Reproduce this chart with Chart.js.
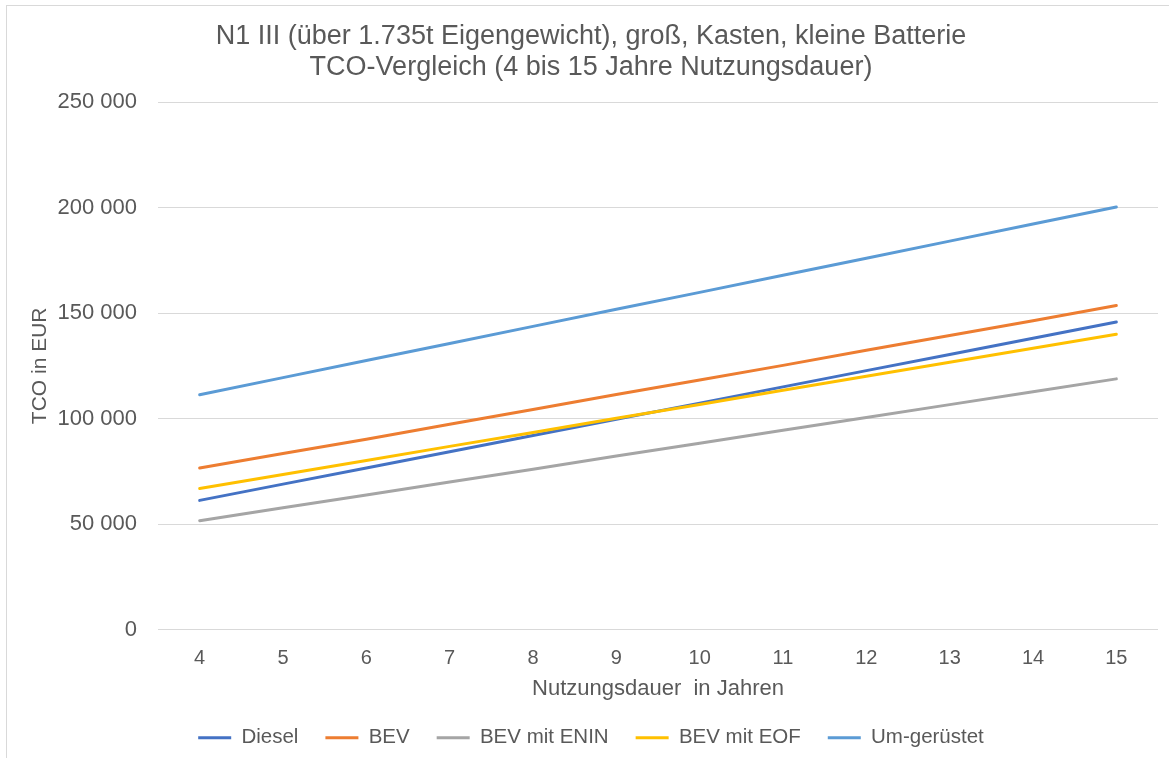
<!DOCTYPE html>
<html>
<head>
<meta charset="utf-8">
<script src="https://cdn.jsdelivr.net/npm/chart.js@4/dist/chart.umd.min.js"></script>
<style>
  html, body { margin: 0; padding: 0; background: #ffffff; overflow: hidden; width: 1169px; height: 758px; }
  #frame { position: absolute; left: 6px; top: 5px; width: 1200px; height: 800px; border-left: 1px solid #d9d9d9; border-top: 1px solid #d9d9d9; }
  #c { position: absolute; left: 0; top: 0; }
</style>
</head>
<body>
<div id="frame"><canvas id="c" width="1168" height="752"></canvas></div>
<script>
const titleLines = ["N1 III (über 1.735t Eigengewicht), groß, Kasten, kleine Batterie", "TCO-Vergleich (4 bis 15 Jahre Nutzungsdauer)"];
const xAxisTitle = "Nutzungsdauer  in Jahren";
const yAxisTitle = "TCO in EUR";
const years = ["4", "5", "6", "7", "8", "9", "10", "11", "12", "13", "14", "15"];
const seriesNames = ["Diesel", "BEV", "BEV mit ENIN", "BEV mit EOF", "Um-gerüstet"];
const diesel    = [61200, 68900, 76600, 84300, 92000, 99700, 107300, 115000, 122700, 130400, 138100, 145800];
const bev       = [76600, 83400, 90200, 97300, 104300, 111400, 118300, 125200, 132400, 139400, 146400, 153600];
const bevEnin   = [51600, 57700, 63800, 69900, 76000, 82200, 88300, 94400, 100500, 106600, 112700, 118800];
const bevEof    = [66800, 73500, 80100, 86800, 93400, 100100, 106700, 113400, 120000, 126700, 133300, 140000];
const umgeruest = [111300, 119400, 127500, 135600, 143700, 151800, 159800, 167900, 176000, 184100, 192200, 200300];
const yTickValues = [0, 50000, 100000, 150000, 200000, 250000];
const seriesColors = ["#4472C4", "#ED7D31", "#A5A5A5", "#FFC000", "#5B9BD5"];

const seriesValues = [diesel, bev, bevEnin, bevEof, umgeruest];
const textColor = "#595959";
const fontFamily = "'Liberation Sans', Arial, sans-serif";

function fmt(v) { return String(v).replace(/\B(?=(\d{3})+(?!\d))/g, " "); }

new Chart(document.getElementById("c"), {
  type: "line",
  data: {
    labels: years,
    datasets: seriesNames.map((name, i) => ({
      label: name,
      data: seriesValues[i],
      borderColor: seriesColors[i],
      backgroundColor: seriesColors[i],
      borderWidth: 3,
      borderCapStyle: "round",
      borderJoinStyle: "round",
      pointRadius: 0,
      pointHoverRadius: 0,
      tension: 0,
      fill: false,
      order: seriesNames.length - i
    }))
  },
  options: {
    responsive: false,
    animation: false,
    devicePixelRatio: 1,
    layout: { padding: { left: 17, right: 17, top: 0, bottom: 0 } },
    plugins: {
      tooltip: { enabled: false },
      title: {
        display: true,
        text: titleLines,
        color: textColor,
        font: { family: fontFamily, size: 27, weight: "normal", lineHeight: 1.15 },
        padding: { top: 15, bottom: 19 }
      },
      legend: {
        position: "bottom",
        labels: {
          color: textColor,
          font: { family: fontFamily, size: 20.5 },
          usePointStyle: true,
          pointStyle: "line",
          pointStyleWidth: 33,
          padding: 27,
          sort: (a, b) => a.datasetIndex - b.datasetIndex
        }
      }
    },
    scales: {
      x: {
        offset: true,
        afterFit: (scale) => { scale.height = 71; },
        grid: { display: false, drawTicks: false },
        border: { display: false },
        ticks: { color: textColor, font: { family: fontFamily, size: 20 }, padding: 17, maxRotation: 0 },
        title: {
          display: true,
          text: xAxisTitle,
          color: textColor,
          font: { family: fontFamily, size: 22 },
          padding: { top: 7, bottom: -2 }
        }
      },
      y: {
        min: 0,
        max: 250000,
        afterBuildTicks: (scale) => { scale.ticks = yTickValues.map(v => ({ value: v })); },
        afterFit: (scale) => { scale.width = 134; },
        grid: { color: "#d9d9d9", lineWidth: 1, drawTicks: false },
        border: { display: false },
        ticks: { color: textColor, font: { family: fontFamily, size: 22 }, padding: 21, callback: (v) => fmt(v) },
        title: {
          display: true,
          text: yAxisTitle,
          color: textColor,
          font: { family: fontFamily, size: 21 },
          padding: { top: 4, bottom: 0 }
        }
      }
    }
  }
});
</script>
</body>
</html>
